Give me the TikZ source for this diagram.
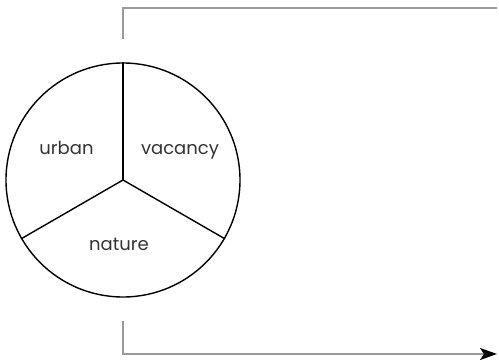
\documentclass[tikz,border=0pt]{standalone}
\usepackage{fontspec}
\setmainfont{Poppins}
\usetikzlibrary{arrows.meta}
\definecolor{linegray}{HTML}{9A9A9A}
\definecolor{textgray}{HTML}{333333}
\begin{document}
\begin{tikzpicture}[x=1pt,y=-1pt,
  pielabel/.style={anchor=base,inner sep=0pt,font=\fontsize{18}{20}\selectfont,text=textgray},
  guide/.style={draw=linegray,line width=1.6pt},
  pieline/.style={draw=black,line width=1.4pt}]
\useasboundingbox (0,0) rectangle (499,364);
\node[circle,minimum size=234pt,inner sep=0pt,pieline] (pie) at (123,180) {};
\coordinate (c) at (pie.center);
\draw[pieline] (c) -- (pie.90);
\draw[pieline] (c) -- (pie.210);
\draw[pieline] (c) -- (pie.330);
\node[pielabel] (urban) at (66.5,154) {urban};
\node[pielabel] (vacancy) at (180,154) {vacancy};
\node[pielabel] (nature) at (119,250) {nature};
\coordinate (t0) at (123,39);
\coordinate (t1) at (123,8);
\coordinate (t2) at (497,8);
\coordinate (b0) at (123,321);
\coordinate (b1) at (123,354);
\coordinate (b2) at (497,354);
\draw[guide] (t0) -- (t1) -- (t2);
\draw[guide,-{Stealth[length=17pt,width=12pt,inset=4pt,black]}] (b0) -- (b1) -- (b2);
\end{tikzpicture}
\end{document}
